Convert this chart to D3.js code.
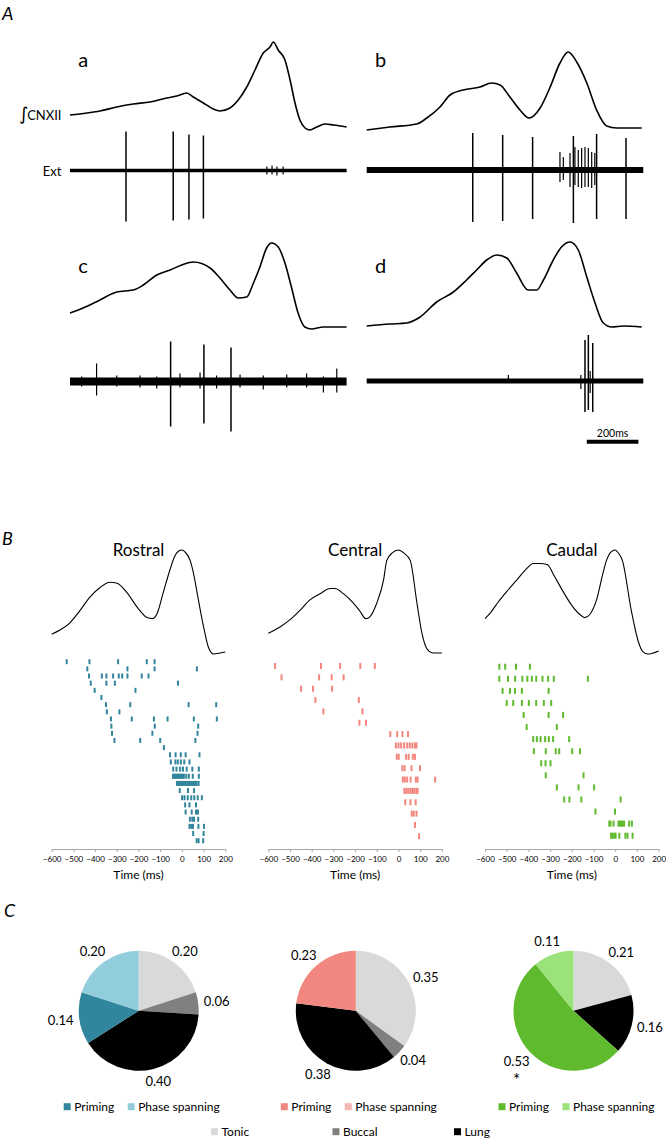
<!DOCTYPE html>
<html><head><meta charset="utf-8">
<script src="https://cdn.jsdelivr.net/npm/d3@7"></script>
<style>
body{margin:0;background:#fff}
svg{display:block}
text{font-family:Lato,"Open Sans",sans-serif;fill:#000}
</style>
</head><body>
<svg id="fig" width="666" height="1138"></svg>
<script>
// ================= DATA =================
// Panel A: integrated CNXII traces [time ms, amplitude a.u.]
const traceA = [[0,16],[65,18],[116,20],[181,24],[245,27],[310,29],[375,33],[414,35],[452,38],[478,34],[517,28],[555,22],[581,20],[620,23],[652,31],[685,44],[717,61],[749,78],[775,84],[788,89],[807,81],[833,71],[853,51],[872,28],[891,11],[911,3],[930,1],[956,4],[988,7],[1021,6],[1072,4]];
const traceB = [[0,1],[90,4],[194,7],[233,13],[284,24],[323,36],[374,41],[439,44],[484,48],[517,46],[555,34],[594,21],[630,13],[672,23],[711,44],[749,68],[781,79],[814,69],[853,48],[891,21],[930,5],[969,3],[1066,3]];
const traceC = [[0,17],[51,22],[116,30],[181,38],[245,40],[284,45],[336,55],[388,60],[433,65],[478,68],[543,62],[581,52],[620,40],[652,32],[685,33],[711,47],[736,63],[762,82],[781,87],[807,83],[833,67],[858,43],[884,17],[910,3],[936,1],[981,3],[1072,3]];
const traceD = [[0,4],[90,6],[155,7],[207,13],[271,28],[336,38],[387,50],[426,60],[465,70],[504,75],[543,72],[581,57],[626,40],[659,40],[685,50],[723,70],[755,83],[788,88],[820,80],[853,53],[885,27],[917,7],[950,3],[995,4],[1066,3]];
// Extracellular units: [time ms, upward amplitude, downward amplitude]
const spikesA = [[217,39,51],[400,39,50],[461,36,49],[517,35,48]];
const smallA = [[763,4,4],[783,5,4],[802,4,5],[826,4,4]];
const spikesB = [[411,37,52],[527,35,51],[643,33,49],[801,34,53],[891,36,49],[1005,32,49]];
const smallB = [[749,18,12],[762,13,10],[788,17,17],[807,23,15],[820,20,17],[833,22,18],[846,23,17],[859,22,17],[872,18,18],[884,17,15]];
const spikesC = [[390,40,45],[519,37,42],[624,34,50]];
const smallC = [[45,5,5],[103,18,14],[181,6,5],[271,6,6],[336,5,7],[426,8,6],[504,9,7],[568,6,7],[659,7,6],[749,6,8],[840,7,6],[917,8,6],[982,5,11],[1034,13,11]];
const spikesD = [[846,41,31],[859,46,29],[876,38,31]];
const smallD = [[549,6,2],[830,6,8],[866,10,12]];
const scaleBarMs = 200;

// Panel B
const regions = ["Rostral","Central","Caudal"];
const timeTicks = [-600,-500,-400,-300,-200,-100,0,100,200];
const rostralTrace = [[-600,0.19],[-562,0.23],[-516,0.30],[-469,0.42],[-423,0.55],[-377,0.64],[-331,0.69],[-299,0.68],[-253,0.59],[-206,0.45],[-160,0.35],[-137,0.34],[-114,0.39],[-86,0.59],[-55,0.81],[-35,0.93],[-15,0.99],[0,1.0],[15,0.98],[38,0.90],[55,0.76],[70,0.59],[100,0.26],[123,0.06],[146,0.0],[177,0.01],[200,0.02]];
const centralTrace = [[-600,0.20],[-546,0.26],[-500,0.33],[-454,0.42],[-408,0.52],[-361,0.58],[-315,0.63],[-292,0.63],[-254,0.58],[-208,0.49],[-177,0.41],[-151,0.34],[-131,0.36],[-100,0.49],[-69,0.71],[-54,0.90],[-30,0.97],[0,1.0],[25,0.97],[54,0.90],[85,0.49],[108,0.20],[131,0.05],[162,0.01],[200,0.01]];
const caudalTrace = [[-600,0.34],[-577,0.39],[-539,0.50],[-500,0.60],[-454,0.71],[-408,0.82],[-378,0.87],[-347,0.87],[-314,0.86],[-278,0.74],[-240,0.60],[-201,0.47],[-163,0.38],[-140,0.35],[-117,0.38],[-86,0.52],[-56,0.78],[-40,0.90],[-20,0.98],[0,1.0],[15,0.97],[33,0.90],[74,0.42],[105,0.13],[128,0.02],[151,0.0],[200,0.03]];
const rostralRaster = [
 [-531,-426,-294,-162,-126],[-436,-251,-126,69],[-428,-369,-348,-317,-291,-275,-251,-185,-154],[-420,-348,-309,-18],
 [-402,-214],[-371],[-350,-238,31,158],[-346,-288],[-327,-231,-129,-66,55,161],[-325,-125,75],[-322,-136,72],
 [-311,-192,-100,62],[-83],[-55,-29,-5,17,81],[-51,-30,-19,-5,11,35],[-40,-25,-8,5,22,48,78],
 [-41,-36,-31,-26,-21,-16,-11,-6,-1,4,9,20,32,50,78],[-23,-16,-9,-2,5,12,19,26,33,40,47,54,61,68,77],
 [-10,28,56],[1,12,27,43,57,73,92],[15,35,65],[17,45,65,74],[37,48,56,75],[35,43,51,76,102],[52,100],[68,77,98]];
const centralRaster = [
 [-569,-357,-269,-176,-109],[-539,-366,-308,-253],[-449,-394,-306],[-383,-183],[-346,-166],[-180,-150],
 [-38,-6,18,44],[-12,0,12,26,40,52,64,76,83],[-8,1,35,47,66,76],[18,28,60,99],[20,29,40,56,80,88,169],
 [27,36,45,55,64,72,82,88],[31,55,79],[61,70,83],[76],[95]];
const caudalRaster = [
 [-534,-507,-457,-393],[-534,-494,-461,-428,-405,-384,-364,-335,-309,-283,-126],[-519,-485,-462,-430,-307],
 [-500,-470,-430,-398,-364,-329,-295],[-422,-307,-240],[-408,-269],[-378,-361,-344,-323,-306,-286,-212],
 [-375,-320,-274,-258,-198,-162],[-341,-321,-298],[-320,-146],[-269,-169,-97],[-235,-211,-156,25],
 [-91,-1],[-27,-22,-8,15,21,27,34,41,64,77],[-19,-13,-5,2,19,47,57,80]];

// Panel C
const pieCategories = ["Tonic","Buccal","Lung","Priming","Phase spanning"];
const rostralPie = [0.20,0.06,0.40,0.14,0.20];
const centralPie = [0.35,0.04,0.38,0.23,0.00];
const caudalPie  = [0.21,0.00,0.16,0.53,0.11];
const significant = [false,false,true]; // * on caudal priming

// ================= DRAWING =================
const svg = d3.select("#fig");
const sharedColors = {Tonic:"#d9d9d9", Buccal:"#808080", Lung:"#000000"};
const primingColors = ["#31859c","#f2877f","#5fba2e"];
const phaseColors = ["#92cddc","#f5b5b1","#9be27a"];

// ---- Panel A ----
svg.append("text").attr("x",2).attr("y",19.5).attr("font-size",18).attr("font-style","italic").text("A");
const tA = d3.scaleLinear().domain([0,1072]).range([0,276.6]);
const vInt = d3.scaleLinear().domain([0,90]).range([0,-90]);
const vExt = d3.scaleLinear().domain([0,60]).range([0,60]);
const panelsA = [
 {lab:"a", x0:70,    intY:131, extY:170.5, labY:66.7, noise:3.5, trace:traceA, spikes:spikesA, small:smallA},
 {lab:"b", x0:366.7, intY:131, extY:170,   labY:66.7, noise:6, trace:traceB, spikes:spikesB, small:smallB},
 {lab:"c", x0:70,    intY:330, extY:381.5, labY:273,  noise:8, trace:traceC, spikes:spikesC, small:smallC},
 {lab:"d", x0:366.7, intY:330, extY:381,   labY:273,  noise:5, trace:traceD, spikes:spikesD, small:smallD}
];
panelsA.forEach(p => {
  const g = svg.append("g").attr("transform",`translate(${p.x0},0)`);
  g.append("text").attr("x",8.3).attr("y",p.labY).attr("font-size",20).text(p.lab);
  const line = d3.line().x(d=>tA(d[0])).y(d=>p.intY+vInt(d[1])).curve(d3.curveMonotoneX);
  g.append("path").attr("d",line(p.trace)).attr("fill","none").attr("stroke","#000").attr("stroke-width",1.6).attr("stroke-linejoin","round");
  g.append("rect").attr("x",tA(0)).attr("width",tA(1072)-tA(0)).attr("y",p.extY-p.noise/2).attr("height",p.noise).attr("fill","#000");
  g.selectAll(".sm").data(p.small).join("line")
    .attr("x1",d=>tA(d[0])).attr("x2",d=>tA(d[0]))
    .attr("y1",d=>p.extY-vExt(d[1])).attr("y2",d=>p.extY+vExt(d[2]))
    .attr("stroke","#000").attr("stroke-width",1.2);
  g.selectAll(".sp").data(p.spikes).join("line")
    .attr("x1",d=>tA(d[0])).attr("x2",d=>tA(d[0]))
    .attr("y1",d=>p.extY-vExt(d[1])).attr("y2",d=>p.extY+vExt(d[2]))
    .attr("stroke","#000").attr("stroke-width",1.5);
});
svg.append("text").attr("x",28.5).attr("y",119.5).attr("text-anchor","end").attr("font-size",18)
  .style("font-family","'DejaVu Sans'").text("∫");
svg.append("text").attr("x",61.5).attr("y",120).attr("text-anchor","end").attr("font-size",13).text("CNXII");
svg.append("text").attr("x",61.5).attr("y",176).attr("text-anchor","end").attr("font-size",13).text("Ext");
// scale bar (panel d frame)
{
  const p = panelsA[3];
  const xEnd = p.x0 + tA(1053), xStart = p.x0 + tA(1053 - scaleBarMs);
  svg.append("line").attr("x1",xStart).attr("x2",xEnd).attr("y1",441.7).attr("y2",441.7).attr("stroke","#000").attr("stroke-width",4);
  svg.append("text").attr("x",(xStart+xEnd)/2).attr("y",436.7).attr("text-anchor","middle").attr("font-size",10.5).text(scaleBarMs+"ms");
}

// ---- Panel B ----
svg.append("text").attr("x",2).attr("y",545).attr("font-size",18).attr("font-style","italic").text("B");
const lefts = [51.7,268.3,485];
const traces = [rostralTrace,centralTrace,caudalTrace];
const rasters = [rostralRaster,centralRaster,caudalRaster];
const rowRanges = [[661.7,840.7],[666,836.3],[666.7,835.7]];
const tickH = [5,6,6];
const yTr = d3.scaleLinear().domain([0,1]).range([654,550]);
regions.forEach((name,i) => {
  const x = d3.scaleLinear().domain([-600,200]).range([lefts[i], lefts[i]+173.6]);
  const cx = lefts[i]+86.8;
  svg.append("text").attr("x",cx).attr("y",556).attr("text-anchor","middle").attr("font-size",17).text(name);
  svg.append("path").attr("d", d3.line().x(d=>x(d[0])).y(d=>yTr(d[1])).curve(d3.curveMonotoneX)(traces[i]))
    .attr("fill","none").attr("stroke","#000").attr("stroke-width",1.1);
  const y = d3.scalePoint().domain(d3.range(rasters[i].length)).range(rowRanges[i]);
  const pts = rasters[i].flatMap((row,r) => row.map(t => ({r,t})));
  svg.append("g").selectAll("rect").data(pts).join("rect")
    .attr("x",d=>x(d.t)-1).attr("width",2)
    .attr("y",d=>y(d.r)-tickH[i]/2).attr("height",tickH[i])
    .attr("fill",primingColors[i]);
  const ax = svg.append("g").attr("transform","translate(0,849)")
    .call(d3.axisBottom(x).tickValues(timeTicks).tickSize(3).tickSizeOuter(0).tickPadding(4).tickFormat(d3.format("d")));
  ax.select(".domain").attr("stroke","#a6a6a6");
  ax.selectAll(".tick line").attr("stroke","#a6a6a6");
  ax.selectAll(".tick text").attr("font-size",8).attr("fill","#404040").style("font-family","Lato, sans-serif");
  svg.append("text").attr("x",cx).attr("y",879).attr("text-anchor","middle").attr("font-size",12).text("Time (ms)");
});

// ---- Panel C ----
svg.append("text").attr("x",4).attr("y",917).attr("font-size",18).attr("font-style","italic").text("C");
const pies = [rostralPie,centralPie,caudalPie];
const pieCx = [138.7,355.8,573.5], pieCy = 1010.8, R = 60;
const pieGen = d3.pie().sort(null).value(d=>d.v);
const arcGen = d3.arc().innerRadius(0).outerRadius(R);
const fmt = d3.format(".2f");
pies.forEach((vals,i) => {
  const colorOf = c => c==="Priming" ? primingColors[i] : c==="Phase spanning" ? phaseColors[i] : sharedColors[c];
  const data = pieCategories.map((c,k)=>({c, v:vals[k]}));
  const arcs = pieGen(data);
  const g = svg.append("g").attr("transform",`translate(${pieCx[i]},${pieCy})`);
  g.selectAll("path").data(arcs.filter(a=>a.data.v>0)).join("path").attr("d",arcGen).attr("fill",d=>colorOf(d.data.c));
  arcs.filter(a=>a.data.v>0).forEach(a => {
    const m = (a.startAngle+a.endAngle)/2;
    const lx = Math.sin(m)*R*1.31, ly = -Math.cos(m)*R*1.22;
    g.append("text").attr("x",lx).attr("y",ly).attr("dy","0.35em").attr("text-anchor","middle").attr("font-size",13).text(fmt(a.data.v));
    if (significant[i] && a.data.c==="Priming") {
      g.append("text").attr("x",lx).attr("y",ly+14).attr("dy","0.6em").attr("text-anchor","middle").attr("font-size",17).text("*");
    }
  });
  const lx = d3.scalePoint().domain(["Priming","Phase spanning"]).range([pieCx[i]-75, pieCx[i]-11]);
  ["Priming","Phase spanning"].forEach(c => {
    svg.append("rect").attr("x",lx(c)).attr("y",1103.2).attr("width",7).attr("height",7).attr("fill",colorOf(c));
    svg.append("text").attr("x",lx(c)+10.5).attr("y",1111).attr("font-size",12).text(c);
  });
});
const shared = ["Tonic","Buccal","Lung"];
const lx2 = d3.scalePoint().domain(shared).range([211,454]);
shared.forEach(c => {
  svg.append("rect").attr("x",lx2(c)).attr("y",1128.2).attr("width",7).attr("height",7).attr("fill",sharedColors[c]);
  svg.append("text").attr("x",lx2(c)+10.5).attr("y",1136).attr("font-size",12).text(c);
});
</script>
</body></html>
